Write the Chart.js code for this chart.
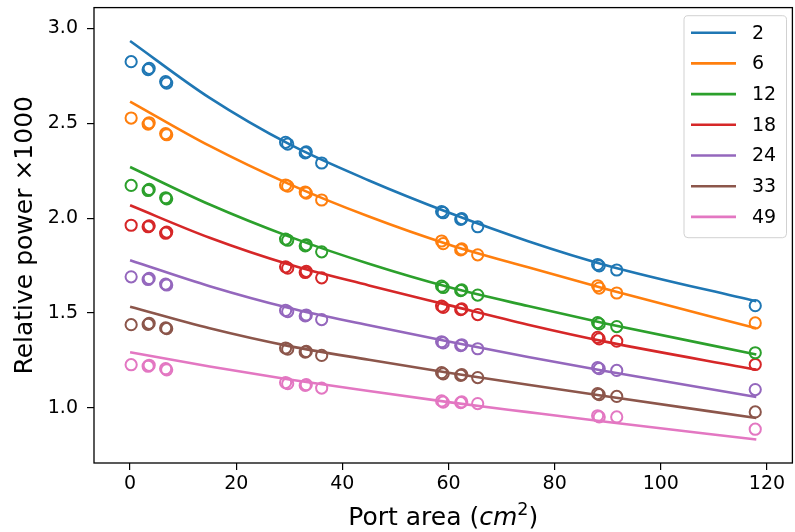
<!DOCTYPE html>
<html>
<head>
<meta charset="utf-8">
<script src="https://cdn.jsdelivr.net/npm/chart.js@4/dist/chart.umd.min.js"></script>
<style>
  html, body { margin: 0; padding: 0; overflow: hidden; background: #fff; }
  #wrap { width: 800px; height: 532px; position: relative; }
</style>
</head>
<body>
<div id="wrap"><canvas id="c"></canvas></div>
<script>
// Legend labels and colours of the seven curves
const seriesLabels = ['2', '6', '12', '18', '24', '33', '49'];
const seriesColors = ['#1f77b4', '#ff7f0e', '#2ca02c', '#d62728', '#9467bd', '#8c564b', '#e377c2'];

// Measured port areas (cm^2)
const portArea = [0.2, 3.4, 6.7, 29.7, 33.0, 36.1, 59.0, 62.3, 65.5, 88.4, 91.7, 117.8];
// Repeated measurements at nearby port areas
const repeatArea = [3.6, 6.9, 29.3, 33.2, 58.7, 62.5, 88.1];

// Measured relative power (x1000)
const power2  = [2.825, 2.783, 2.720, 2.391, 2.344, 2.291, 2.029, 1.994, 1.955, 1.749, 1.727, 1.539];
const power6  = [2.528, 2.496, 2.446, 2.169, 2.138, 2.096, 1.866, 1.833, 1.807, 1.632, 1.606, 1.448];
const power12 = [2.173, 2.146, 2.108, 1.884, 1.854, 1.823, 1.635, 1.618, 1.595, 1.443, 1.429, 1.291];
const power18 = [1.963, 1.955, 1.921, 1.737, 1.714, 1.686, 1.530, 1.518, 1.492, 1.364, 1.352, 1.229];
const power24 = [1.691, 1.677, 1.653, 1.508, 1.485, 1.466, 1.343, 1.329, 1.312, 1.207, 1.198, 1.097];
const power33 = [1.439, 1.441, 1.422, 1.310, 1.294, 1.277, 1.180, 1.172, 1.160, 1.070, 1.061, 0.979];
const power49 = [1.228, 1.220, 1.207, 1.128, 1.119, 1.105, 1.031, 1.028, 1.023, 0.953, 0.953, 0.888];

const repeat2  = [2.790, 2.712, 2.400, 2.350, 2.035, 1.998, 1.756];
const repeat6  = [2.503, 2.440, 2.175, 2.132, 1.880, 1.838, 1.644];
const repeat12 = [2.152, 2.102, 1.890, 1.860, 1.642, 1.622, 1.450];
const repeat18 = [1.960, 1.927, 1.744, 1.720, 1.537, 1.522, 1.372];
const repeat24 = [1.683, 1.648, 1.514, 1.490, 1.349, 1.333, 1.213];
const repeat33 = [1.446, 1.418, 1.316, 1.298, 1.186, 1.176, 1.076];
const repeat49 = [1.225, 1.201, 1.134, 1.123, 1.037, 1.032, 0.959];

// Fitted curves, sampled along the port area axis
const fitArea = [0, 15, 30, 45, 60, 75, 90, 118];
const fit2  = [2.934, 2.634, 2.390, 2.199, 2.030, 1.879, 1.750, 1.562];
const fit6  = [2.615, 2.381, 2.180, 2.009, 1.862, 1.741, 1.625, 1.420];
const fit12 = [2.270, 2.072, 1.903, 1.760, 1.637, 1.537, 1.443, 1.282];
const fit18 = [2.068, 1.897, 1.756, 1.646, 1.542, 1.439, 1.347, 1.202];
const fit24 = [1.779, 1.642, 1.527, 1.436, 1.350, 1.269, 1.192, 1.058];
const fit33 = [1.534, 1.420, 1.326, 1.254, 1.186, 1.122, 1.060, 0.947];
const fit49 = [1.294, 1.219, 1.150, 1.089, 1.031, 0.978, 0.926, 0.834];

// Axis ticks
const xTicks = [0, 20, 40, 60, 80, 100, 120];
const yTicks = [1.0, 1.5, 2.0, 2.5, 3.0];

const powers  = [power2, power6, power12, power18, power24, power33, power49];
const repeats = [repeat2, repeat6, repeat12, repeat18, repeat24, repeat33, repeat49];
const fits    = [fit2, fit6, fit12, fit18, fit24, fit33, fit49];

const FONT = '"DejaVu Sans", "Liberation Sans", sans-serif';

const datasets = [];
seriesLabels.forEach((lab, i) => {
  const pts = portArea.map((x, k) => ({ x: x, y: powers[i][k] }))
    .concat(repeatArea.map((x, k) => ({ x: x, y: repeats[i][k] })));
  datasets.push({
    label: lab + ' measured',
    data: pts,
    showLine: false,
    pointStyle: 'circle',
    pointRadius: 5.6,
    pointBorderWidth: 2,
    pointBackgroundColor: 'rgba(0,0,0,0)',
    pointBorderColor: seriesColors[i],
    borderColor: seriesColors[i],
    backgroundColor: 'rgba(0,0,0,0)',
    isFit: false
  });
});
seriesLabels.forEach((lab, i) => {
  datasets.push({
    label: lab,
    data: fitArea.map((x, k) => ({ x: x, y: fits[i][k] })),
    showLine: true,
    pointRadius: 0,
    borderWidth: 2.6,
    borderColor: seriesColors[i],
    backgroundColor: seriesColors[i],
    cubicInterpolationMode: 'monotone',
    isFit: true
  });
});

// Axes frame (all four spines)
const framePlugin = {
  id: 'frame',
  afterDatasetsDraw(chart) {
    const { ctx, chartArea: a } = chart;
    ctx.save();
    ctx.strokeStyle = '#000';
    ctx.lineWidth = 1.3;
    ctx.strokeRect(a.left, a.top, a.right - a.left, a.bottom - a.top);
    ctx.restore();
  }
};

// Axis titles, with the mathtext-style unit on the x axis
const titlePlugin = {
  id: 'titles',
  afterDraw(chart) {
    const { ctx, chartArea: a } = chart;
    ctx.save();
    ctx.fillStyle = '#000';
    ctx.translate(31.5, (a.top + a.bottom) / 2);
    ctx.rotate(-Math.PI / 2);
    ctx.font = '25px ' + FONT;
    ctx.textAlign = 'center';
    ctx.textBaseline = 'alphabetic';
    ctx.fillText('Relative power \u00d71000', 0, 0);
    ctx.restore();

    ctx.save();
    ctx.fillStyle = '#000';
    ctx.textBaseline = 'alphabetic';
    ctx.textAlign = 'left';
    const parts = [
      { t: 'Port area (', f: '25px ' + FONT, dy: 0 },
      { t: 'cm', f: 'italic 25px ' + FONT, dy: 0 },
      { t: '2', f: '17.5px ' + FONT, dy: -10 },
      { t: ')', f: '25px ' + FONT, dy: 0 }
    ];
    let total = 0;
    parts.forEach(p => { ctx.font = p.f; p.w = ctx.measureText(p.t).width; total += p.w; });
    let x = (a.left + a.right) / 2 - total / 2;
    const base = 525;
    parts.forEach(p => { ctx.font = p.f; ctx.fillText(p.t, x, base + p.dy); x += p.w; });
    ctx.restore();
  }
};

// Framed legend inside the plot, upper right
const legendPlugin = {
  id: 'boxLegend',
  afterDraw(chart) {
    const { ctx } = chart;
    const items = chart.data.datasets.filter(d => d.isFit);
    const bx = 684, by = 15.7, bw = 102.5, bh = 222;
    ctx.save();
    ctx.beginPath();
    ctx.roundRect(bx, by, bw, bh, 4);
    ctx.fillStyle = 'rgba(255,255,255,0.8)';
    ctx.fill();
    ctx.strokeStyle = 'rgba(204,204,204,0.9)';
    ctx.lineWidth = 1;
    ctx.stroke();
    ctx.font = '19px ' + FONT;
    ctx.textBaseline = 'middle';
    ctx.textAlign = 'left';
    items.forEach((d, i) => {
      const y = 32.7 + i * 30.7;
      ctx.strokeStyle = d.borderColor;
      ctx.lineWidth = 2.6;
      ctx.beginPath();
      ctx.moveTo(691, y);
      ctx.lineTo(736, y);
      ctx.stroke();
      ctx.fillStyle = '#000';
      ctx.fillText(d.label, 752, y + 1);
    });
    ctx.restore();
  }
};

new Chart(document.getElementById('c'), {
  type: 'scatter',
  data: { datasets: datasets },
  options: {
    responsive: true,
    maintainAspectRatio: false,
    animation: false,
    devicePixelRatio: 1,
    layout: { padding: { top: 6, right: 4, left: 0, bottom: 0 } },
    plugins: { legend: { display: false }, tooltip: { enabled: false } },
    scales: {
      x: {
        type: 'linear',
        min: -6.8,
        max: 124.8,
        afterBuildTicks: s => { s.ticks = xTicks.map(v => ({ value: v })); },
        afterFit: s => { s.height = 69; s.paddingLeft = 0; s.paddingRight = 0; },
        grid: { display: true, drawOnChartArea: false, drawTicks: true, tickLength: 7, color: '#000', lineWidth: 1.2 },
        border: { display: false },
        ticks: {
          font: { family: FONT, size: 19 },
          color: '#000',
          padding: 3,
          maxRotation: 0,
          autoSkip: false,
          callback: v => String(Math.round(v))
        }
      },
      y: {
        type: 'linear',
        min: 0.71,
        max: 3.11,
        afterBuildTicks: s => { s.ticks = yTicks.map(v => ({ value: v })); },
        afterFit: s => { s.width = 94; s.paddingTop = 0; s.paddingBottom = 0; },
        grid: { display: true, drawOnChartArea: false, drawTicks: true, tickLength: 7, color: '#000', lineWidth: 1.2 },
        border: { display: false },
        ticks: {
          font: { family: FONT, size: 19 },
          color: '#000',
          padding: 9,
          autoSkip: false,
          callback: v => Number(v).toFixed(1)
        }
      }
    }
  },
  plugins: [framePlugin, titlePlugin, legendPlugin]
});
</script>
</body>
</html>
